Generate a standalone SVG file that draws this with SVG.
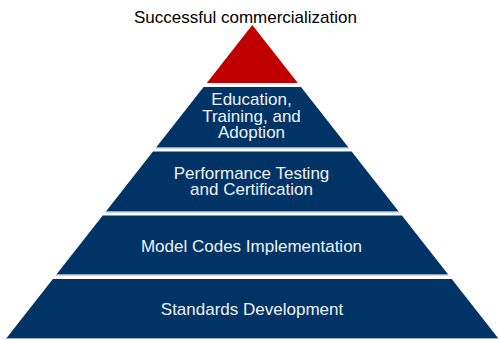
<svg xmlns="http://www.w3.org/2000/svg" width="500" height="340" viewBox="0 0 500 340">
<style>
.tier{fill:#003366}
.apex{fill:#C00000}
.edge{stroke:#9fb3c9;stroke-width:1;fill:none}
.lbl{font-family:"Liberation Sans",Arial,sans-serif;font-size:17px;fill:#eef2f6;text-anchor:middle}
.title{font-family:"Liberation Sans",Arial,sans-serif;font-size:17px;fill:#000000;text-anchor:middle}
</style>
<rect width="500" height="340" fill="#ffffff"/>
<g id="title">
<text class="title" x="245.5" y="23">Successful commercialization</text>
</g>
<g id="apex">
<polygon class="apex" points="252.3,25 297.8,83 206.8,83"/>
</g>
<g id="tier1">
<polygon class="tier" points="203.6,87 301,87 348.5,147.5 156.1,147.5"/>
<line class="edge" x1="156" y1="148" x2="349" y2="148"/>
<text class="lbl" x="251.5" y="105"><tspan x="251.5" y="105">Education,</tspan><tspan x="251.5" y="121.5">Training, and</tspan><tspan x="251.5" y="138">Adoption</tspan></text>
</g>
<g id="tier2">
<polygon class="tier" points="153,151.5 351.6,151.5 398.7,211.5 105.9,211.5"/>
<line class="edge" x1="105.5" y1="212" x2="399" y2="212"/>
<text class="lbl" x="251.5" y="178.5"><tspan x="251.5" y="178.5">Performance Testing</tspan><tspan x="251.5" y="195">and Certification</tspan></text>
</g>
<g id="tier3">
<polygon class="tier" points="102.7,215.5 401.9,215.5 448.2,274.5 56.4,274.5"/>
<line class="edge" x1="56" y1="275" x2="448.5" y2="275"/>
<text class="lbl" x="251.5" y="251.5">Model Codes Implementation</text>
</g>
<g id="tier4">
<polygon class="tier" points="52.9,279 451.7,279 498,338 6.6,338"/>
<line class="edge" x1="6" y1="338.5" x2="498.5" y2="338.5"/>
<text class="lbl" x="252" y="315">Standards Development</text>
</g>
<g id="connectors"/>
</svg>
